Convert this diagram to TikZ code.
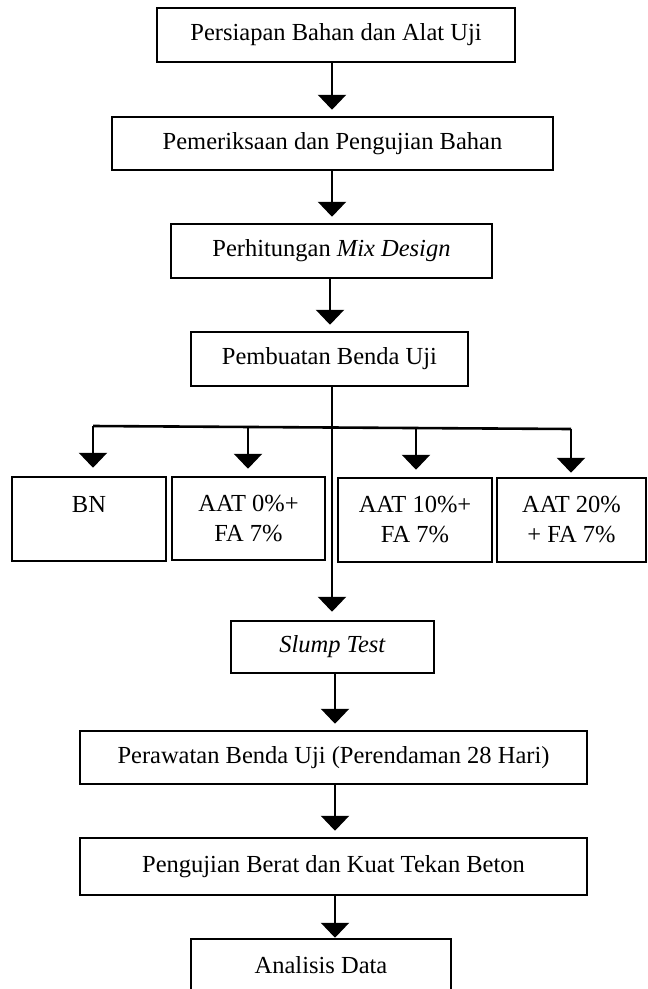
\documentclass[tikz,border=0pt]{standalone}
\usepackage{fontspec}
\setmainfont{Liberation Serif}
\usetikzlibrary{arrows.meta}
\begin{document}
\begin{tikzpicture}[x=1pt,y=-1pt,
  box/.style={draw, line width=2.5pt, inner sep=0pt, font=\fontsize{24.5}{30}\selectfont, align=center},
  arr/.style={line width=2.6pt, -{Triangle[width=28pt,length=15pt]}, shorten >=6pt},
  ln/.style={line width=2.6pt}]
\useasboundingbox (0,0) rectangle (648,989);
\clip (0,0) rectangle (648,989);
\node[box, minimum width=358pt, minimum height=54pt] (b1) at (336,35) {Persiapan Bahan dan Alat Uji};
\node[box, minimum width=441pt, minimum height=53pt] (b2) at (332.5,143.5) {Pemeriksaan dan Pengujian Bahan};
\node[box, minimum width=321pt, minimum height=54pt] (b3) at (331.5,251) {Perhitungan \textit{Mix Design}};
\node[box, minimum width=277pt, minimum height=54pt] (b4) at (329.5,359) {Pembuatan Benda Uji};
\node[box, minimum width=154pt, minimum height=84pt] (bn) at (89,519) {BN\\\mbox{}};
\node[box, minimum width=153pt, minimum height=83pt] (a0) at (248.5,518.5) {AAT 0\%+\\FA 7\%};
\node[box, minimum width=154pt, minimum height=84pt] (a10) at (415,520) {AAT 10\%+\\FA 7\%};
\node[box, minimum width=149pt, minimum height=84pt] (a20) at (571.5,520) {AAT 20\%\\+ FA 7\%};
\node[box, minimum width=203pt, minimum height=52pt] (sl) at (332.5,647) {\textit{Slump Test}};
\node[box, minimum width=507pt, minimum height=53pt] (pr) at (333.5,757.5) {Perawatan Benda Uji (Perendaman 28 Hari)};
\node[box, minimum width=507pt, minimum height=57pt] (pg) at (333.5,866.5) {Pengujian Berat dan Kuat Tekan Beton};
\node[box, minimum width=260pt, minimum height=52pt] (an) at (321,965) {Analisis Data};
\coordinate (cx) at (332,0);
\coordinate (cy) at (330,0);
\coordinate (cz) at (335,0);
\draw[arr] (b1.south -| cx) -- (b2.north -| cx);
\draw[arr] (b2.south -| cx) -- (b3.north -| cx);
\draw[arr] (b3.south -| cy) -- (b4.north -| cy);
\draw[arr, shorten >=8pt] (b4.south -| cx) -- (sl.north -| cx);
\coordinate (busL) at (93,426);
\coordinate (d2) at (248,427);
\coordinate (d3) at (416,428);
\coordinate (busR) at (571,429);
\draw[ln] (busL) -- (busR);
\draw[arr, shorten >=8pt] (busL) -- (busL |- bn.north);
\draw[arr, shorten >=7pt] (d2) -- (d2 |- a0.north);
\draw[arr, shorten >=7pt] (d3) -- (d3 |- a10.north);
\draw[arr, shorten >=4pt] (busR) -- (busR |- a20.north);
\draw[arr] (sl.south -| cz) -- (pr.north -| cz);
\draw[arr] (pr.south -| cz) -- (pg.north -| cz);
\draw[arr, shorten >=0pt] (pg.south -| cz) -- (an.north -| cz);
\end{tikzpicture}
\end{document}
